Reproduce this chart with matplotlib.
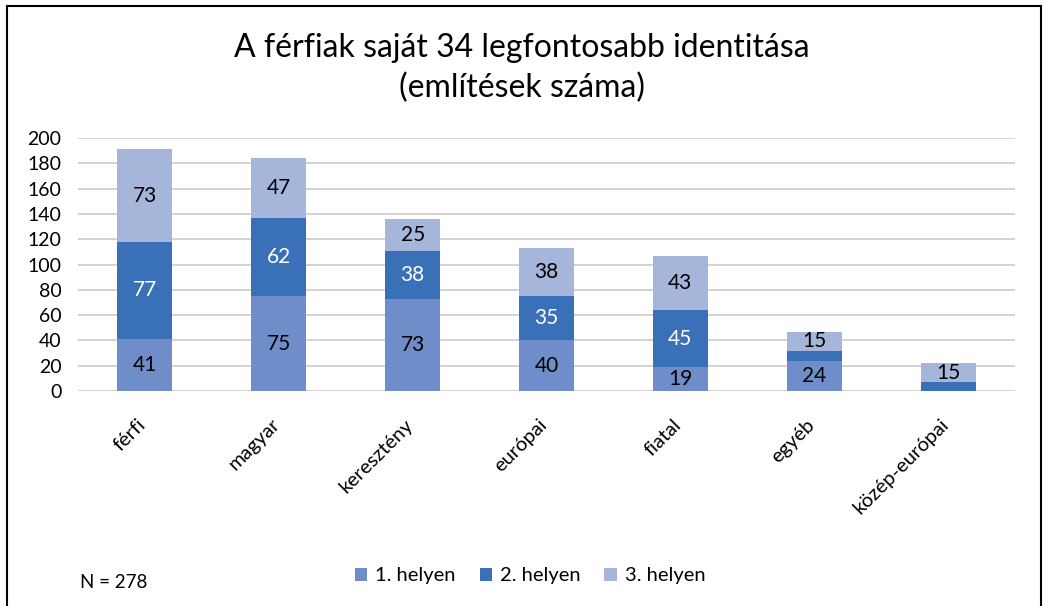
import numpy as np
import matplotlib.pyplot as plt
import matplotlib.transforms as mtransforms
from matplotlib.patches import Rectangle

plt.rcParams['font.family'] = ['Lato', 'DejaVu Sans']

categories = ['férfi', 'magyar', 'keresztény', 'európai', 'fiatal', 'egyéb', 'közép-európai']
first = [41, 75, 73, 40, 19, 24, 0]
second = [77, 62, 38, 35, 45, 8, 7]
third = [73, 47, 25, 38, 43, 15, 15]
# labels shown on the chart (None = no label)
first_lbl = [41, 75, 73, 40, 19, 24, None]
second_lbl = [77, 62, 38, 35, 45, None, None]
third_lbl = [73, 47, 25, 38, 43, 15, 15]
series_names = ['1. helyen', '2. helyen', '3. helyen']

colors = ['#6F8DC8', '#3A70B8', '#A6B6DA']
lbl_colors = ['black', 'white', 'black']

fig = plt.figure(figsize=(10.44, 6.06), dpi=100)
ax = fig.add_axes([78 / 1044, 1 - 391 / 606, 937 / 1044, 253 / 606])

x = np.arange(len(categories))
bottom = np.zeros(len(categories))
for vals, lbls, col, lc, name in zip([first, second, third], [first_lbl, second_lbl, third_lbl],
                                     colors, lbl_colors, series_names):
    bars = ax.bar(x, vals, 0.41, bottom=bottom, color=col, label=name, zorder=3)
    for b, v, l in zip(bars, vals, lbls):
        if l is not None:
            ax.text(b.get_x() + b.get_width() / 2, b.get_y() + v / 2, str(l),
                    ha='center', va='center', fontsize=15, color=lc, zorder=4)
    bottom += np.array(vals)

ax.set_xlim(-0.5, len(categories) - 0.5)
ax.set_ylim(0, 200)
ax.set_yticks(range(0, 201, 20))
ax.yaxis.grid(True, color='#D0D0D0', linewidth=1.3, zorder=0)
for s in ax.spines.values():
    s.set_visible(False)
ax.tick_params(axis='both', length=0, labelsize=14)
ax.tick_params(axis='y', pad=12)
ax.set_xticks(x)
ax.set_xticklabels(categories, rotation=45, ha='right', rotation_mode='anchor', fontsize=14.5)
offset = mtransforms.ScaledTranslation(-0.08, -0.2, fig.dpi_scale_trans)
for t in ax.get_xticklabels():
    t.set_transform(t.get_transform() + offset)

fig.text(0.5, 1 - 48 / 606, 'A férfiak saját 34 legfontosabb identitása', ha='center', va='center', fontsize=23)
fig.text(0.5, 1 - 88 / 606, '(említések száma)', ha='center', va='center', fontsize=23)

fig.text(80 / 1044, 1 - 582 / 606, 'N = 278', ha='left', va='center', fontsize=13.5)
fig.legend(loc='center', bbox_to_anchor=(530 / 1044, 1 - 576 / 606), ncol=3, frameon=False,
           fontsize=14.5, handlelength=0.6, handleheight=0.6, handletextpad=0.4, columnspacing=1.2)

fig.patches.append(Rectangle((7 / 1044, -0.01), 1034 / 1044, 1 - 6 / 606 + 0.01, transform=fig.transFigure,
                             fill=False, edgecolor='black', linewidth=1.5))

fig.savefig('out.png', dpi=100)
